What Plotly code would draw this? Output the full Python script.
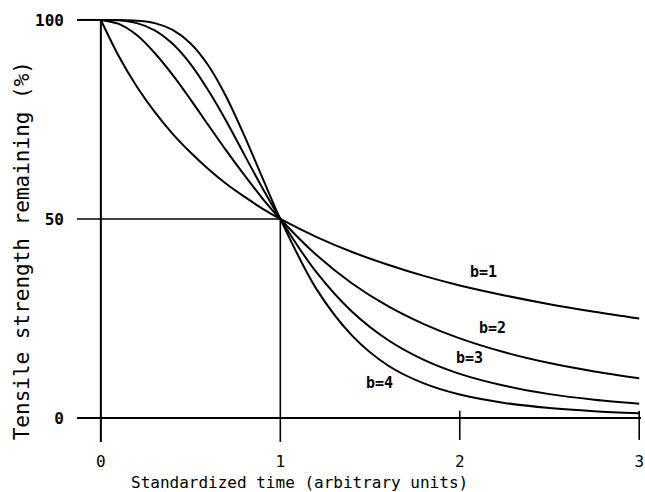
import plotly.graph_objects as go

# Standardized time (arbitrary units)
t = [0.0, 0.1, 0.2, 0.3, 0.4, 0.5, 0.6, 0.7, 0.8, 0.9, 1.0,
     1.2, 1.4, 1.6, 1.8, 2.0, 2.25, 2.5, 2.75, 3.0]

# Tensile strength remaining (%) for each shape parameter b
strength_b1 = [100, 90.9, 83.3, 76.9, 71.4, 66.7, 62.5, 58.8, 55.6, 52.6, 50.0,
               45.5, 41.7, 38.5, 35.7, 33.3, 30.8, 28.6, 26.7, 25.0]
strength_b2 = [100, 99.0, 96.2, 91.7, 86.2, 80.0, 73.5, 67.1, 61.0, 55.2, 50.0,
               41.0, 33.8, 28.1, 23.6, 20.0, 16.5, 13.8, 11.7, 10.0]
strength_b3 = [100, 99.9, 99.2, 97.4, 94.0, 88.9, 82.2, 74.5, 66.1, 57.8, 50.0,
               36.7, 26.7, 19.6, 14.6, 11.1, 8.1, 6.0, 4.6, 3.6]
strength_b4 = [100, 100.0, 99.8, 99.2, 97.5, 94.1, 88.5, 80.6, 70.9, 60.4, 50.0,
               32.5, 20.7, 13.2, 8.7, 5.9, 3.8, 2.5, 1.7, 1.2]

curve_labels = ["b=1", "b=2", "b=3", "b=4"]
label_x = [2.13, 2.18, 2.056, 1.55]
label_y = [36.8, 22.7, 15.0, 8.8]

x_ticks = [0, 1, 2, 3]
x_tick_text = ["0", "1", "2", "3"]
y_ticks = [0, 50, 100]
y_tick_text = ["0", "50", "100"]

X_MIN, X_MAX = -0.133, 3.01
Y_MIN, Y_MAX = -6.78, 102.5

MONO = "DejaVu Sans Mono"
INK = "black"

fig = go.Figure()

# guide lines: baseline, 50 % level, 100 % tick, time axis and the t=1 drop line
guides = [
    ([X_MIN, X_MAX], [0, 0], 2),
    ([X_MIN, 1], [50, 50], 1.6),
    ([X_MIN, 0], [100, 100], 2),
    ([0, 0], [100, -6.0], 2),
    ([1, 1], [50, -6.0], 1.6),
    ([2, 2], [1.8, -5.5], 1.6),
    ([3, 3], [1.8, -5.5], 1.6),
]
for gx, gy, w in guides:
    fig.add_trace(go.Scatter(x=gx, y=gy, mode="lines",
                             line=dict(color=INK, width=w),
                             hoverinfo="skip", showlegend=False))

for ys in (strength_b1, strength_b2, strength_b3, strength_b4):
    fig.add_trace(go.Scatter(x=t, y=ys, mode="lines",
                             line=dict(color=INK, width=2, shape="spline",
                                       smoothing=0.9),
                             showlegend=False))

for txt, lx, ly in zip(curve_labels, label_x, label_y):
    fig.add_annotation(x=lx, y=ly, text=txt, showarrow=False,
                       font=dict(family=MONO, size=15, color=INK, weight="bold"))

fig.add_annotation(xref="paper", yref="paper", x=0.394, y=-0.087,
                   xanchor="center", yanchor="middle",
                   text="Standardized time (arbitrary units)",
                   showarrow=False, font=dict(family=MONO, size=16, color=INK))
fig.add_annotation(xref="paper", yref="paper", x=-0.097, y=0.446,
                   xanchor="center", yanchor="middle",
                   text="Tensile strength remaining (%)",
                   textangle=-90, showarrow=False,
                   font=dict(family=MONO, size=21, color=INK))

fig.update_xaxes(range=[X_MIN, X_MAX], showgrid=False, zeroline=False,
                 showline=False, ticks="", tickvals=x_ticks,
                 ticktext=x_tick_text, ticklabelstandoff=5,
                 ticklabeloverflow="allow",
                 tickfont=dict(family=MONO, size=16, color=INK))
fig.update_yaxes(range=[Y_MIN, Y_MAX], showgrid=False, zeroline=False,
                 showline=False, ticks="", tickvals=y_ticks,
                 ticktext=y_tick_text, ticklabelstandoff=12,
                 tickfont=dict(family=MONO, size=16, color=INK, weight="bold"))

fig.update_layout(width=645, height=492,
                  margin=dict(l=77, r=1, t=10, b=47),
                  paper_bgcolor="white", plot_bgcolor="white",
                  showlegend=False)

fig.write_html("out.html")
